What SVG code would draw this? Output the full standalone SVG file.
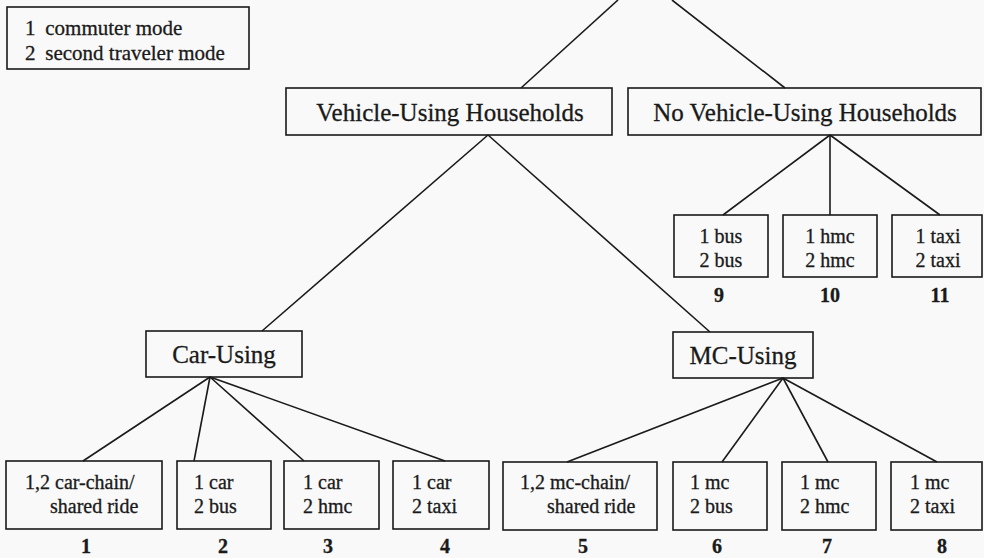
<svg xmlns="http://www.w3.org/2000/svg" width="984" height="558" viewBox="0 0 984 558">
<style>
.bx{fill:none;stroke:#1a1a1a;stroke-width:1.6}
.ln{fill:none;stroke:#1a1a1a;stroke-width:1.6}
.t{font-family:"Liberation Serif","Times New Roman",serif;fill:#1a1a1a;stroke:#1a1a1a;stroke-width:0.3}
.big{font-size:25px}
.mid{font-size:20px}
.leg{font-size:21px}
.num{font-size:20px;font-weight:bold}
.c{text-anchor:middle}
</style>
<rect width="984" height="558" fill="#f9f9f9"/>
<g id="legend">
<rect class="bx" x="7" y="7" width="242" height="62"/>
<text class="t leg" y="35"><tspan x="25">1</tspan><tspan x="40"> commuter mode</tspan></text>
<text class="t leg" y="60"><tspan x="25">2</tspan><tspan x="40"> second traveler mode</tspan></text>
</g>
<g id="connectors">
<line class="ln" x1="618" y1="0" x2="521" y2="88"/>
<line class="ln" x1="672" y1="0" x2="785" y2="88"/>
<line class="ln" x1="488" y1="135" x2="262" y2="331"/>
<line class="ln" x1="488" y1="135" x2="710" y2="332"/>
<line class="ln" x1="830" y1="135" x2="723" y2="215"/>
<line class="ln" x1="830" y1="135" x2="830" y2="215"/>
<line class="ln" x1="830" y1="135" x2="940" y2="215"/>
<line class="ln" x1="210" y1="377" x2="83" y2="461"/>
<line class="ln" x1="210" y1="377" x2="194" y2="461"/>
<line class="ln" x1="210" y1="377" x2="304" y2="461"/>
<line class="ln" x1="210" y1="377" x2="445" y2="461"/>
<line class="ln" x1="783" y1="378" x2="567" y2="462"/>
<line class="ln" x1="783" y1="378" x2="722" y2="462"/>
<line class="ln" x1="783" y1="378" x2="828" y2="462"/>
<line class="ln" x1="783" y1="378" x2="937" y2="462"/>
</g>
<g id="vehicle">
<rect class="bx" x="286" y="88" width="326" height="47"/>
<text class="t big c" x="450" y="121">Vehicle-Using Households</text>
</g>
<g id="novehicle">
<rect class="bx" x="628" y="88" width="353" height="47"/>
<text class="t big c" x="805" y="121">No Vehicle-Using Households</text>
</g>
<g id="car">
<rect class="bx" x="146" y="331" width="156" height="46"/>
<text class="t big c" x="224" y="363">Car-Using</text>
</g>
<g id="mc">
<rect class="bx" x="673" y="332" width="140" height="46"/>
<text class="t big c" x="743" y="364">MC-Using</text>
</g>
<g id="n9">
<rect class="bx" x="674" y="215" width="94" height="62"/>
<text class="t mid c" x="721" y="243">1 bus</text>
<text class="t mid c" x="721" y="267">2 bus</text>
<text class="t num c" x="719" y="302">9</text>
</g>
<g id="n10">
<rect class="bx" x="783" y="215" width="94" height="62"/>
<text class="t mid c" x="830" y="243">1 hmc</text>
<text class="t mid c" x="830" y="267">2 hmc</text>
<text class="t num c" x="830" y="302">10</text>
</g>
<g id="n11">
<rect class="bx" x="892" y="215" width="90" height="62"/>
<text class="t mid c" x="938" y="243">1 taxi</text>
<text class="t mid c" x="938" y="267">2 taxi</text>
<text class="t num c" x="940" y="302">11</text>
</g>
<g id="n1">
<rect class="bx" x="6" y="461" width="156" height="68"/>
<text class="t mid" x="25" y="489">1,2 car-chain/</text>
<text class="t mid" x="50" y="513">shared ride</text>
<text class="t num c" x="86" y="553">1</text>
</g>
<g id="n2">
<rect class="bx" x="177" y="461" width="94" height="68"/>
<text class="t mid" x="194" y="489">1 car</text>
<text class="t mid" x="194" y="513">2 bus</text>
<text class="t num c" x="223" y="553">2</text>
</g>
<g id="n3">
<rect class="bx" x="284" y="461" width="95" height="68"/>
<text class="t mid" x="303" y="489">1 car</text>
<text class="t mid" x="303" y="513">2 hmc</text>
<text class="t num c" x="328" y="553">3</text>
</g>
<g id="n4">
<rect class="bx" x="393" y="461" width="96" height="68"/>
<text class="t mid" x="412" y="489">1 car</text>
<text class="t mid" x="412" y="513">2 taxi</text>
<text class="t num c" x="445" y="553">4</text>
</g>
<g id="n5">
<rect class="bx" x="503" y="462" width="154" height="68"/>
<text class="t mid" x="520" y="489">1,2 mc-chain/</text>
<text class="t mid" x="547" y="513">shared ride</text>
<text class="t num c" x="583" y="553">5</text>
</g>
<g id="n6">
<rect class="bx" x="673" y="462" width="94" height="68"/>
<text class="t mid" x="690" y="489">1 mc</text>
<text class="t mid" x="690" y="513">2 bus</text>
<text class="t num c" x="717" y="553">6</text>
</g>
<g id="n7">
<rect class="bx" x="782" y="462" width="94" height="68"/>
<text class="t mid" x="800" y="489">1 mc</text>
<text class="t mid" x="800" y="513">2 hmc</text>
<text class="t num c" x="827" y="553">7</text>
</g>
<g id="n8">
<rect class="bx" x="891" y="462" width="91" height="68"/>
<text class="t mid" x="910" y="489">1 mc</text>
<text class="t mid" x="910" y="513">2 taxi</text>
<text class="t num c" x="942" y="553">8</text>
</g>
</svg>
